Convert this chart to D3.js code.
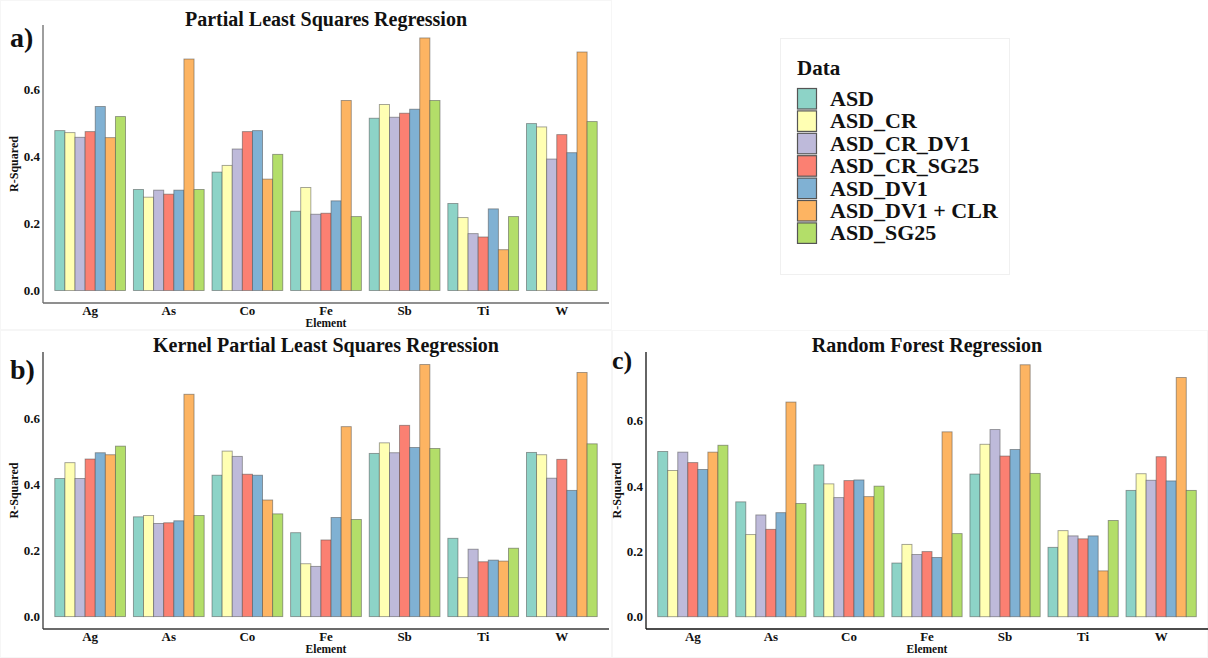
<!DOCTYPE html>
<html>
<head>
<meta charset="utf-8">
<script src="https://cdn.jsdelivr.net/npm/d3@7"></script>
<style>
  html, body { margin: 0; padding: 0; background: #ffffff; }
  svg { display: block; }
  text { font-family: "Liberation Serif", "DejaVu Serif", serif; font-weight: bold; fill: #111; }
</style>
</head>
<body>
<svg id="chart" width="1208" height="658"></svg>
<script>
// Elements on the x axis and preprocessing variants (legend order)
const elements = ["Ag", "As", "Co", "Fe", "Sb", "Ti", "W"];
const datasets = ["ASD", "ASD_CR", "ASD_CR_DV1", "ASD_CR_SG25", "ASD_DV1", "ASD_DV1 + CLR", "ASD_SG25"];
const palette = ["#8DD3C7", "#FFFFB3", "#BEBADA", "#FB8072", "#80B1D3", "#FDB462", "#B3DE69"];
const yTicks = [0.0, 0.2, 0.4, 0.6];

// R-squared per element, one array per dataset (order follows `elements`)
// a) Partial Least Squares Regression
const plsASD       = [0.478, 0.302, 0.354, 0.237, 0.515, 0.260, 0.499];
const plsCR        = [0.472, 0.279, 0.374, 0.308, 0.556, 0.218, 0.489];
const plsCRDV1     = [0.458, 0.300, 0.423, 0.228, 0.518, 0.170, 0.393];
const plsCRSG25    = [0.475, 0.288, 0.475, 0.231, 0.530, 0.160, 0.466];
const plsDV1       = [0.550, 0.300, 0.478, 0.268, 0.542, 0.244, 0.412];
const plsDV1CLR    = [0.457, 0.692, 0.333, 0.568, 0.755, 0.122, 0.713];
const plsSG25      = [0.520, 0.302, 0.407, 0.221, 0.568, 0.221, 0.505];

// b) Kernel Partial Least Squares Regression
const kplsASD      = [0.418, 0.302, 0.428, 0.254, 0.494, 0.237, 0.497];
const kplsCR       = [0.466, 0.306, 0.501, 0.160, 0.526, 0.118, 0.490];
const kplsCRDV1    = [0.418, 0.282, 0.485, 0.152, 0.496, 0.204, 0.419];
const kplsCRSG25   = [0.477, 0.284, 0.431, 0.232, 0.579, 0.166, 0.476];
const kplsDV1      = [0.496, 0.290, 0.428, 0.300, 0.512, 0.171, 0.382];
const kplsDV1CLR   = [0.490, 0.673, 0.353, 0.575, 0.763, 0.168, 0.739];
const kplsSG25     = [0.516, 0.306, 0.311, 0.294, 0.509, 0.207, 0.523];

// c) Random Forest Regression
const rfASD        = [0.505, 0.351, 0.464, 0.164, 0.436, 0.212, 0.386];
const rfCR         = [0.447, 0.251, 0.406, 0.221, 0.527, 0.263, 0.437];
const rfCRDV1      = [0.503, 0.311, 0.364, 0.190, 0.572, 0.247, 0.417];
const rfCRSG25     = [0.471, 0.267, 0.416, 0.199, 0.491, 0.238, 0.489];
const rfDV1        = [0.450, 0.318, 0.418, 0.181, 0.511, 0.247, 0.415];
const rfDV1CLR     = [0.503, 0.656, 0.367, 0.565, 0.770, 0.140, 0.731];
const rfSG25       = [0.524, 0.346, 0.399, 0.254, 0.438, 0.294, 0.386];

const panels = [
  { tag: "a)", title: "Partial Least Squares Regression",
    series: [plsASD, plsCR, plsCRDV1, plsCRSG25, plsDV1, plsDV1CLR, plsSG25],
    left: 43, right: 609, top: 25, bottom: 303, zeroY: 290.5, sixY: 89.8,
    axisColor: "#6a6a6a", titleY: 26, tagX: 10, tagY: 47, tagSize: 28 },
  { tag: "b)", title: "Kernel Partial Least Squares Regression",
    series: [kplsASD, kplsCR, kplsCRDV1, kplsCRSG25, kplsDV1, kplsDV1CLR, kplsSG25],
    left: 43, right: 609, top: 352, bottom: 629, zeroY: 616.6, sixY: 418.4,
    axisColor: "#3a3a3a", titleY: 352, tagX: 10, tagY: 379, tagSize: 28 },
  { tag: "c)", title: "Random Forest Regression",
    series: [rfASD, rfCR, rfCRDV1, rfCRSG25, rfDV1, rfDV1CLR, rfSG25],
    left: 646, right: 1208, top: 352, bottom: 629, zeroY: 616.7, sixY: 420.4,
    axisColor: "#111111", titleY: 352, tagX: 612, tagY: 369, tagSize: 26 }
];

const svg = d3.select("#chart");

// faint frames around each sub-figure
const frames = [[0, 0, 612, 330], [0, 330, 612, 328], [612, 330, 596, 328]];
svg.append("g").selectAll("rect").data(frames).join("rect")
  .attr("x", d => d[0] + 0.5).attr("y", d => d[1] + 0.5)
  .attr("width", d => d[2] - 1).attr("height", d => d[3] - 1)
  .attr("fill", "none").attr("stroke", "#f6f6f6").attr("stroke-width", 1);

const color = d3.scaleOrdinal().domain(datasets).range(palette);

panels.forEach(p => {
  const g = svg.append("g");

  const x = d3.scaleBand().domain(elements)
    .range([p.left, p.right]).paddingInner(0).paddingOuter(0.1);
  const inner = d3.scaleBand().domain(datasets)
    .range([-0.45 * x.bandwidth(), 0.45 * x.bandwidth()]).padding(0);
  const y = d3.scaleLinear().domain([0, 0.6]).range([p.zeroY, p.sixY]);

  const rows = [];
  elements.forEach((el, i) => {
    datasets.forEach((ds, j) => rows.push({ el, ds, v: p.series[j][i] }));
  });

  g.append("g").selectAll("rect").data(rows).join("rect")
    .attr("x", d => x(d.el) + x.bandwidth() / 2 + inner(d.ds))
    .attr("y", d => y(d.v))
    .attr("width", inner.bandwidth())
    .attr("height", d => y(0) - y(d.v))
    .attr("fill", d => color(d.ds))
    .attr("stroke", "#4a4a4a").attr("stroke-opacity", 0.55).attr("stroke-width", 0.9);

  // axes: ggplot-style lines without tick marks
  g.append("line").attr("x1", p.left).attr("x2", p.left)
    .attr("y1", p.top).attr("y2", p.bottom)
    .attr("stroke", p.axisColor).attr("stroke-width", 1.3);
  g.append("line").attr("x1", p.left).attr("x2", p.right)
    .attr("y1", p.bottom).attr("y2", p.bottom)
    .attr("stroke", p.axisColor).attr("stroke-width", 1.3);

  const yAxis = d3.axisLeft(y).tickValues(yTicks).tickFormat(d3.format(".1f"))
    .tickSize(0).tickPadding(3);
  const ya = g.append("g").attr("transform", `translate(${p.left},0)`).call(yAxis);
  ya.select(".domain").remove();
  ya.selectAll("text").attr("font-size", 13).attr("fill", "#111")
    .style("font-family", "'Liberation Serif', serif").style("font-weight", "bold");

  const xAxis = d3.axisBottom(x).tickSize(0).tickPadding(3);
  const xa = g.append("g").attr("transform", `translate(0,${p.bottom})`).call(xAxis);
  xa.select(".domain").remove();
  xa.selectAll("text").attr("font-size", 13).attr("fill", "#111")
    .style("font-family", "'Liberation Serif', serif").style("font-weight", "bold");

  const cx = (p.left + p.right) / 2;
  g.append("text").attr("x", cx).attr("y", p.bottom + 24)
    .attr("text-anchor", "middle").attr("font-size", 11.5).text("Element");

  g.append("text")
    .attr("transform", `translate(${p.left - 25},${(p.top + p.bottom) / 2}) rotate(-90)`)
    .attr("text-anchor", "middle").attr("font-size", 12).text("R-Squared");

  g.append("text").attr("x", cx).attr("y", p.titleY)
    .attr("text-anchor", "middle").attr("font-size", 20).text(p.title);

  g.append("text").attr("x", p.tagX).attr("y", p.tagY)
    .attr("font-size", p.tagSize).text(p.tag);
});

// legend
const legend = svg.append("g");
legend.append("rect").attr("x", 780.5).attr("y", 38.5).attr("width", 229).attr("height", 236)
  .attr("fill", "#ffffff").attr("stroke", "#f0f0f0");
legend.append("text").attr("x", 797).attr("y", 75).attr("font-size", 21).text("Data");
const items = legend.selectAll("g.item").data(datasets).join("g").attr("class", "item")
  .attr("transform", (d, i) => `translate(797,${88 + i * 22.4})`);
items.append("rect").attr("x", 0.5).attr("y", 0.5).attr("width", 19).attr("height", 20.5)
  .attr("fill", d => color(d)).attr("stroke", "#555").attr("stroke-width", 1.2);
items.append("text").attr("x", 33).attr("y", 18).attr("font-size", 22).text(d => d);
</script>
</body>
</html>
